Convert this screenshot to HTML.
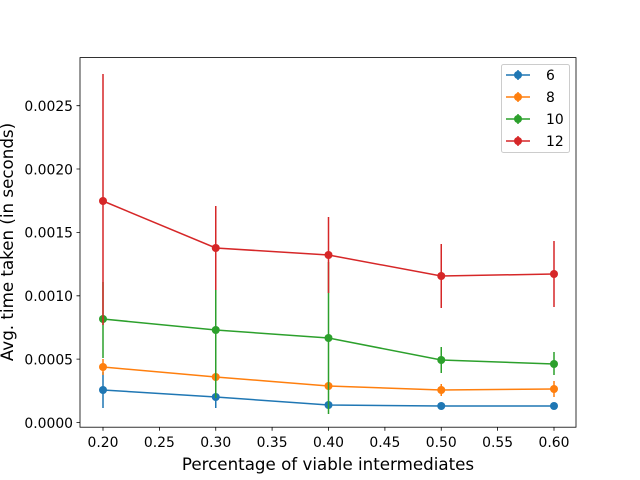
<!DOCTYPE html>
<html><head><style>body{margin:0;background:#fff}svg{display:block}</style></head><body>
<svg width="640" height="480" xmlns="http://www.w3.org/2000/svg" font-family="DejaVu Sans, sans-serif">
<rect width="640" height="480" fill="#fff"/>
<g stroke-width="1.5" fill="none">
<g stroke="#1f77b4"><path d="M103 372V408M215.75 386V408M328.5 402V408M441.25 403V409M554 403V409"/><polyline points="103,390 215.75,397 328.5,405 441.25,406 554,406"/></g>
<g fill="#1f77b4"><circle cx="103" cy="390" r="4"/><circle cx="215.75" cy="397" r="4"/><circle cx="328.5" cy="405" r="4"/><circle cx="441.25" cy="406" r="4"/><circle cx="554" cy="406" r="4"/></g>
<g stroke="#ff7f0e"><path d="M103 359V375M215.75 371V385M328.5 382V390M441.25 384V396M554 381V397"/><polyline points="103,367 215.75,377 328.5,386 441.25,390 554,389"/></g>
<g fill="#ff7f0e"><circle cx="103" cy="367" r="4"/><circle cx="215.75" cy="377" r="4"/><circle cx="328.5" cy="386" r="4"/><circle cx="441.25" cy="390" r="4"/><circle cx="554" cy="389" r="4"/></g>
<g stroke="#2ca02c"><path d="M103 282V358M215.75 262V398M328.5 262V414M441.25 347V373M554 352V375"/><polyline points="103,319 215.75,330 328.5,338 441.25,360 554,364"/></g>
<g fill="#2ca02c"><circle cx="103" cy="319" r="4"/><circle cx="215.75" cy="330" r="4"/><circle cx="328.5" cy="338" r="4"/><circle cx="441.25" cy="360" r="4"/><circle cx="554" cy="364" r="4"/></g>
<g stroke="#d62728"><path d="M103 74V325M215.75 206V290M328.5 217V293M441.25 244V308M554 241V307"/><polyline points="103,201 215.75,248 328.5,255 441.25,276 554,274"/></g>
<g fill="#d62728"><circle cx="103" cy="201" r="4"/><circle cx="215.75" cy="248" r="4"/><circle cx="328.5" cy="255" r="4"/><circle cx="441.25" cy="276" r="4"/><circle cx="554" cy="274" r="4"/></g>
</g>
<rect x="80" y="57.6" width="496" height="369.6" fill="none" stroke="#000" stroke-width="0.8"/>
<g stroke="#000" stroke-width="0.8">
<path d="M103 427.2v3.5M159.4 427.2v3.5M215.75 427.2v3.5M272.1 427.2v3.5M328.5 427.2v3.5M384.9 427.2v3.5M441.25 427.2v3.5M497.6 427.2v3.5M554 427.2v3.5"/>
<path d="M80 422.5h-3.5M80 359.1h-3.5M80 295.8h-3.5M80 232.4h-3.5M80 169h-3.5M80 105.7h-3.5"/>
</g>
<g font-size="13.9" text-anchor="middle" fill="#000">
<text x="103" y="447">0.20</text><text x="159.4" y="447">0.25</text><text x="215.75" y="447">0.30</text><text x="272.1" y="447">0.35</text><text x="328.5" y="447">0.40</text><text x="384.9" y="447">0.45</text><text x="441.25" y="447">0.50</text><text x="497.6" y="447">0.55</text><text x="554" y="447">0.60</text>
</g>
<g font-size="13.9" text-anchor="end" fill="#000">
<text x="73" y="427.8">0.0000</text><text x="73" y="364.4">0.0005</text><text x="73" y="301.1">0.0010</text><text x="73" y="237.7">0.0015</text><text x="73" y="174.3">0.0020</text><text x="73" y="111">0.0025</text>
</g>
<text x="328" y="470" font-size="16.7" text-anchor="middle">Percentage of viable intermediates</text>
<text transform="translate(13,242) rotate(-90)" font-size="16.7" text-anchor="middle">Avg. time taken (in seconds)</text>
<rect x="501.5" y="64.5" width="68" height="88" rx="2" fill="#fff" fill-opacity="0.8" stroke="#ccc"/>
<g stroke-width="1.5">
<path d="M506 75h24M518 70v10" stroke="#1f77b4"/><circle cx="518" cy="75" r="4" fill="#1f77b4"/>
<path d="M506 97h24M518 92v10" stroke="#ff7f0e"/><circle cx="518" cy="97" r="4" fill="#ff7f0e"/>
<path d="M506 119h24M518 114v10" stroke="#2ca02c"/><circle cx="518" cy="119" r="4" fill="#2ca02c"/>
<path d="M506 141h24M518 136v10" stroke="#d62728"/><circle cx="518" cy="141" r="4" fill="#d62728"/>
</g>
<g font-size="13.9" fill="#000">
<text x="546" y="80">6</text><text x="546" y="102">8</text><text x="546" y="124">10</text><text x="546" y="146">12</text>
</g>
</svg>
</body></html>
